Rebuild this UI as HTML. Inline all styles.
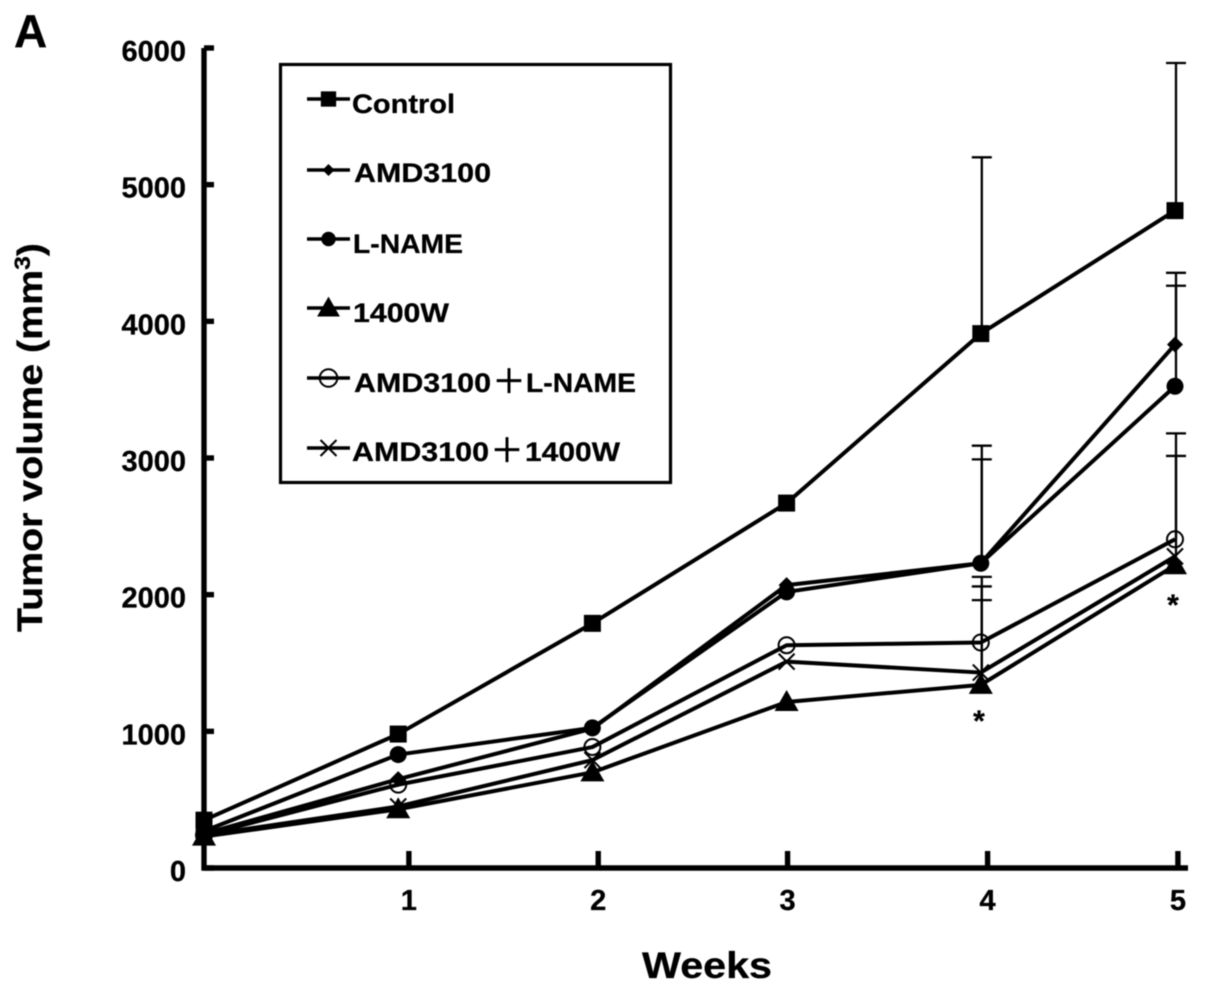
<!DOCTYPE html>
<html lang="en">
<head>
<meta charset="utf-8">
<title>Tumor volume chart</title>
<style>
html,body{margin:0;padding:0;background:#fff;}
svg{display:block;filter:blur(0.6px);}
text{font-family:"Liberation Sans","Noto Sans CJK JP",sans-serif;font-weight:bold;fill:#000;stroke:#000;stroke-width:0.3px;}
</style>
</head>
<body>
<svg id="chart" xmlns="http://www.w3.org/2000/svg" width="1205" height="993" viewBox="0 0 1205 993">
  <rect width="1205" height="993" fill="#fff"/>
  <text x="14" y="47" font-size="46">A</text>
  <text transform="translate(42,632) rotate(-90)" font-size="35" textLength="389" lengthAdjust="spacingAndGlyphs">Tumor volume (mm<tspan dy="-12" font-size="22">3</tspan><tspan dy="12">)</tspan></text>
  <text x="642" y="978" font-size="37" textLength="130" lengthAdjust="spacingAndGlyphs">Weeks</text>
  <text x="979" y="731" font-size="30" text-anchor="middle">*</text>
  <text x="1173" y="615" font-size="30" text-anchor="middle">*</text>
  <rect x="280.5" y="64.5" width="390" height="418" fill="#fff" stroke="#000" stroke-width="3.2"/>
  <g id="axes"></g>
  <g id="errors"></g>
  <g id="series"></g>
  <g id="legend"></g>
</svg>
<script>
var weeks = [0, 1, 2, 3, 4, 5];
var seriesNames = ['Control', 'AMD3100', 'L-NAME', '1400W', 'AMD3100+L-NAME', 'AMD3100+1400W'];
var seriesMarkers = ['square', 'diamond', 'circle', 'triangle', 'open-circle', 'cross'];
var controlValues = [350, 980, 1790, 2670, 3910, 4810];
var amd3100Values = [250, 650, 1020, 2070, 2230, 3830];
var lNameValues = [270, 830, 1025, 2020, 2230, 3525];
var w1400Values = [230, 430, 700, 1215, 1340, 2215];
var amdLNameValues = [240, 610, 885, 1630, 1650, 2405];
var amdW1400Values = [240, 450, 790, 1510, 1430, 2280];
var allValues = [controlValues, amd3100Values, lNameValues, w1400Values, amdLNameValues, amdW1400Values];

var errorWeeks = [4, 5, 4, 5, 4, 5, 4, 4, 5, 4, 5];
var errorBases = [3910, 4810, 2230, 3830, 2230, 3525, 1340, 1650, 2405, 1430, 2280];
var errorTops = [5200, 5890, 3090, 4355, 2990, 4260, 1960, 2130, 3180, 2060, 3015];

var yTickValues = [0, 1000, 2000, 3000, 4000, 5000, 6000];
var xTickWeeks = [1.055, 2.03, 3.005, 4.035, 5.015];
var xTickLabels = ['1', '2', '3', '4', '5'];

var legendLabels = ['Control', 'AMD3100', 'L-NAME', '1400W', 'AMD3100', 'AMD3100'];
var legendSuffixes = ['', '', '', '', 'L-NAME', '1400W'];

var NS = 'http://www.w3.org/2000/svg';
function xScale(w) { return 204 + 194.2 * w; }
function yScale(v) { return 868 - v * 0.13667; }
function make(tag, parent, attrs) {
  var el = document.createElementNS(NS, tag);
  for (var k in attrs) { el.setAttribute(k, attrs[k]); }
  parent.appendChild(el);
  return el;
}
function drawMarker(parent, kind, x, y, scale) {
  var g = make('g', parent, {});
  
  
  var s = scale || 1;
  if (kind === 'square') {
    make('rect', g, {x: x - 8.5 * s, y: y - 8.5 * s, width: 17 * s, height: 17 * s, fill: '#000'});
  } else if (kind === 'diamond') {
    make('polygon', g, {points: [x, y - 8 * s, x + 8 * s, y, x, y + 8 * s, x - 8 * s, y].join(' '), fill: '#000'});
  } else if (kind === 'circle') {
    make('circle', g, {cx: x, cy: y, r: 8.5 * s, fill: '#000'});
  } else if (kind === 'triangle') {
    make('polygon', g, {points: [x, y - 12 * s, x + 12 * s, y + 9 * s, x - 12 * s, y + 9 * s].join(' '), fill: '#000'});
  } else if (kind === 'open-circle') {
    make('circle', g, {cx: x, cy: y, r: 8 * s, fill: 'none', stroke: '#000', 'stroke-width': 2});
  } else {
    make('path', g, {d: 'M' + (x - 8 * s) + ' ' + (y - 8 * s) + 'L' + (x + 8 * s) + ' ' + (y + 8 * s) + 'M' + (x + 8 * s) + ' ' + (y - 8 * s) + 'L' + (x - 8 * s) + ' ' + (y + 8 * s), fill: 'none', stroke: '#000', 'stroke-width': 2});
  }
}

var axes = document.getElementById('axes');
var yAxisLine = make('line', axes, {x1: 204, y1: yScale(6000), x2: 204, y2: 870.5, stroke: '#000', 'stroke-width': 5.4});


var xAxisLine = make('line', axes, {x1: 201.5, y1: 868, x2: 1188, y2: 868, stroke: '#000', 'stroke-width': 5.4});



yTickValues.forEach(function (v) {
  var y = yScale(v);
  var tick = make('line', axes, {x1: 204, y1: y, x2: 214, y2: y, stroke: '#000', 'stroke-width': 5.4});
  
  
  var label = make('text', axes, {x: 186, y: y + 13, 'font-size': 29, 'text-anchor': 'end'});
  
  
  label.textContent = String(v);
});
xTickWeeks.forEach(function (w, i) {
  var x = xScale(w);
  var tick = make('line', axes, {x1: x, y1: 851, x2: x, y2: 868, stroke: '#000', 'stroke-width': 5.4});
  
  
  var label = make('text', axes, {x: x, y: 910, 'font-size': 29, 'text-anchor': 'middle'});
  
  
  label.textContent = xTickLabels[i];
});

var errors = document.getElementById('errors');
errorWeeks.forEach(function (w, i) {
  var x = xScale(w) + 1;
  var top = yScale(errorTops[i]);
  var bar = make('path', errors, {d: 'M' + x + ' ' + yScale(errorBases[i]) + 'V' + top + 'M' + (x - 10) + ' ' + top + 'H' + (x + 10), fill: 'none', stroke: '#000', 'stroke-width': 2.3});
  
  
});

var seriesLayer = document.getElementById('series');
allValues.forEach(function (values, i) {
  var g = make('g', seriesLayer, {});
  
  
  var pts = values.map(function (v, j) { return xScale(weeks[j]) + ',' + yScale(v); }).join(' ');
  var line = make('polyline', g, {points: pts, fill: 'none', stroke: '#000', 'stroke-width': 4, 'stroke-linejoin': 'round'});
  
  
  values.forEach(function (v, j) {
    drawMarker(g, seriesMarkers[i], xScale(weeks[j]), yScale(v), 1);
  });
});

var legendLineY = [99, 170, 239, 308, 378, 448];
var legendTextY = [113, 182, 253, 322, 392, 461];
var legendTextX = [352, 354, 353, 353, 354, 352];
var legendTextW = [103, 137, 110, 96, 137, 137];
var legendSuffixX = [0, 0, 0, 0, 526, 525];
var legendSuffixW = [0, 0, 0, 0, 110, 95];
var legendPlusX = [0, 0, 0, 0, 509, 507];
var legendMarkerScale = [0.9, 0.75, 0.85, 0.95, 1.1, 1];
var legend = document.getElementById('legend');
legendLabels.forEach(function (name, i) {
  var g = make('g', legend, {});
  
  
  var swatch = make('line', g, {x1: 307, y1: legendLineY[i], x2: 350, y2: legendLineY[i], stroke: '#000', 'stroke-width': 3.6});
  
  
  drawMarker(g, seriesMarkers[i], 328.5, legendLineY[i], legendMarkerScale[i]);
  var t = make('text', g, {x: legendTextX[i], y: legendTextY[i], 'font-size': 27, textLength: legendTextW[i], lengthAdjust: 'spacingAndGlyphs'});
  
  
  t.textContent = name;
  if (legendSuffixes[i]) {
    var plus = make('text', g, {x: legendPlusX[i], y: legendTextY[i] + 1, 'font-size': 33, 'text-anchor': 'middle', style: 'font-weight:normal;stroke-width:0.7px'});
    
    
    plus.textContent = '\uFF0B';
    var s = make('text', g, {x: legendSuffixX[i], y: legendTextY[i], 'font-size': 27, textLength: legendSuffixW[i], lengthAdjust: 'spacingAndGlyphs'});
    
    
    s.textContent = legendSuffixes[i];
  }
});
</script>
</body>
</html>
